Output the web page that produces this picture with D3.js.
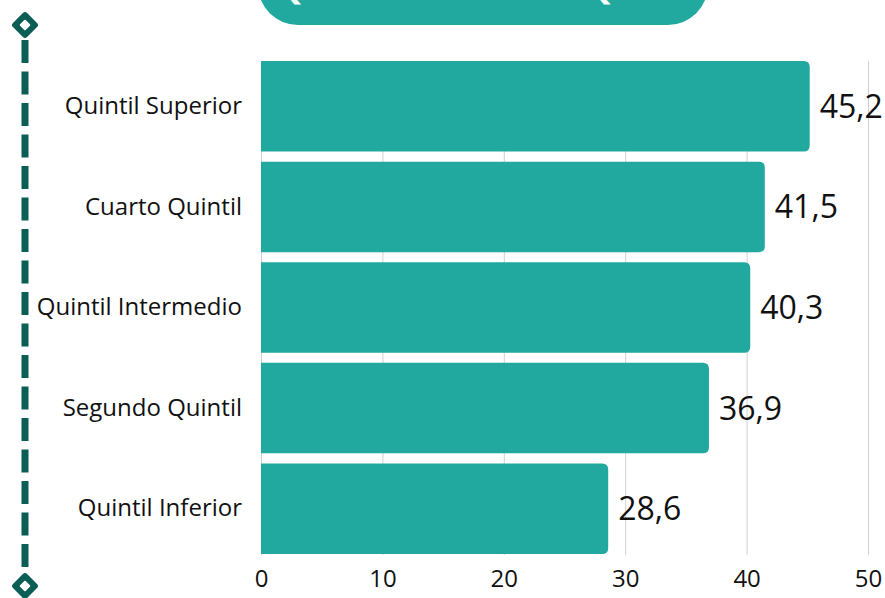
<!DOCTYPE html>
<html>
<head>
<meta charset="utf-8">
<script src="https://cdn.jsdelivr.net/npm/d3@7"></script>
<style>
  html, body { margin: 0; padding: 0; background: #fff; }
  svg { display: block; font-family: "Open Sans", sans-serif; }
</style>
</head>
<body>
<svg id="chart" width="885" height="598"></svg>
<script>
const categorias = ["Quintil Superior", "Cuarto Quintil", "Quintil Intermedio", "Segundo Quintil", "Quintil Inferior"];
const valores = [45.2, 41.5, 40.3, 36.9, 28.6];
const ticksX = [0, 10, 20, 30, 40, 50];
const titulo = "Quintil Inferior vs Quintil Superior";

const datos = categorias.map((c, i) => ({cat: c, val: valores[i]}));

const svg = d3.select("#chart");
const width = 885, height = 598;
const margin = {top: 56, right: 17, bottom: 39, left: 261};

const verde = "#22a99f";
const oscuro = "#0b5e55";
const fmt = d => d3.format(".1f")(d).replace(".", ",");

const x = d3.scaleLinear([0, 50], [margin.left, width - margin.right]);
const y = d3.scaleBand(categorias, [margin.top, height - margin.bottom])
    .paddingInner(0.1)
    .paddingOuter(0.05);

// banner del titulo (recortado arriba)
svg.append("rect")
    .attr("x", 258)
    .attr("y", -60)
    .attr("width", 450)
    .attr("height", 85)
    .attr("rx", 40)
    .attr("fill", verde);

svg.append("text")
    .attr("x", 276)
    .attr("y", -1)
    .attr("fill", "white")
    .attr("font-size", 34)
    .attr("font-weight", 700)
    .text(titulo);

// lineas de la cuadricula
svg.append("g")
    .selectAll("line")
    .data(ticksX)
    .join("line")
    .attr("x1", d => x(d) + 0.5)
    .attr("x2", d => x(d) + 0.5)
    .attr("y1", y.range()[0] + 5)
    .attr("y2", y.range()[1] - 4)
    .attr("stroke", "#d0d0d0")
    .attr("stroke-width", 1);

// barras con esquinas redondeadas solo a la derecha
const r = 6;
svg.append("g")
    .selectAll("path")
    .data(datos)
    .join("path")
    .attr("fill", verde)
    .attr("d", d => {
        const x0 = x(0), x1 = x(d.val), y0 = y(d.cat), h = y.bandwidth();
        return `M${x0},${y0} H${x1 - r} Q${x1},${y0} ${x1},${y0 + r} V${y0 + h - r} Q${x1},${y0 + h} ${x1 - r},${y0 + h} H${x0} Z`;
    });

// etiquetas de valor
svg.append("g")
    .selectAll("text")
    .data(datos)
    .join("text")
    .attr("x", d => x(d.val) + 10)
    .attr("y", d => y(d.cat) + y.bandwidth() / 2)
    .attr("dy", "0.36em")
    .attr("font-size", 32)
    .attr("fill", "#111")
    .text(d => fmt(d.val));

// eje y
const ejeY = svg.append("g")
    .attr("transform", `translate(${margin.left - 19},0)`)
    .call(d3.axisLeft(y).tickSize(0).tickPadding(0));
ejeY.select(".domain").remove();
ejeY.selectAll("text")
    .attr("font-size", 24)
    .attr("font-family", "Open Sans, sans-serif")
    .attr("fill", "#111");

// eje x
const ejeX = svg.append("g")
    .attr("transform", `translate(0,${height - margin.bottom})`)
    .call(d3.axisBottom(x).tickValues(ticksX).tickSize(0).tickPadding(11));
ejeX.select(".domain").remove();
ejeX.selectAll("text")
    .attr("font-size", 24)
    .attr("font-family", "Open Sans, sans-serif")
    .attr("fill", "#111");

// decoracion lateral: linea punteada con rombos
const deco = svg.append("g").attr("fill", oscuro).attr("stroke", oscuro);
deco.append("line")
    .attr("x1", 25).attr("x2", 25)
    .attr("y1", 40).attr("y2", 572)
    .attr("stroke-width", 7)
    .attr("stroke-dasharray", "23,8.5");

[25, 586].forEach(cy => {
    deco.append("rect")
        .attr("x", 25 - 10).attr("y", cy - 10)
        .attr("width", 20).attr("height", 20)
        .attr("rx", 3)
        .attr("transform", `rotate(45,25,${cy})`)
        .attr("stroke", "none");
    deco.append("rect")
        .attr("x", 25 - 4).attr("y", cy - 4)
        .attr("width", 8).attr("height", 8)
        .attr("rx", 1)
        .attr("transform", `rotate(45,25,${cy})`)
        .attr("fill", "white")
        .attr("stroke", "none");
});
</script>
</body>
</html>
